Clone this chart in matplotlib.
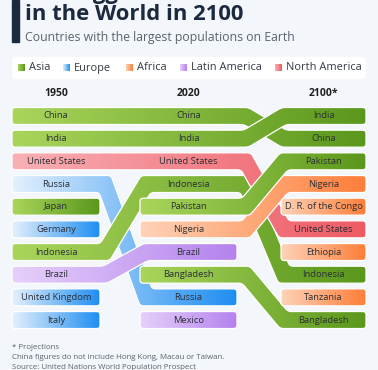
import numpy as np
import matplotlib.pyplot as plt
from matplotlib.colors import LinearSegmentedColormap
from matplotlib.patches import Polygon, FancyBboxPatch, Rectangle

plt.rcParams['font.family'] = ['Open Sans', 'DejaVu Sans']

# data
years = ['1950', '2020', '2100*']
rank_1950 = ['China', 'India', 'United States', 'Russia', 'Japan', 'Germany',
             'Indonesia', 'Brazil', 'United Kingdom', 'Italy']
rank_2020 = ['China', 'India', 'United States', 'Indonesia', 'Pakistan', 'Nigeria',
             'Brazil', 'Bangladesh', 'Russia', 'Mexico']
rank_2100 = ['India', 'China', 'Pakistan', 'Nigeria', 'D. R. of the Congo',
             'United States', 'Ethiopia', 'Indonesia', 'Tanzania', 'Bangladesh']
rankings = [rank_1950, rank_2020, rank_2100]

regions = ['Asia', 'Europe', 'Africa', 'Latin America', 'North America']
asia = ['China', 'India', 'Japan', 'Indonesia', 'Pakistan', 'Bangladesh']
europe = ['Russia', 'Germany', 'United Kingdom', 'Italy']
africa = ['Nigeria', 'D. R. of the Congo', 'Ethiopia', 'Tanzania']
latin_america = ['Brazil', 'Mexico']
north_america = ['United States']
members = [asia, europe, africa, latin_america, north_america]
region_of = {c: reg for reg, lst in zip(regions, members) for c in lst}

colors = {
    'Asia': ('#aad55c', '#5a971c'),
    'Europe': ('#e4f0fd', '#1f8ef1'),
    'Africa': ('#fdd3b9', '#ff7e38'),
    'Latin America': ('#e6d0fa', '#b482ee'),
    'North America': ('#f8b0b5', '#ee5a64'),
}

# layout (pixels)
W, H = 378, 370
BG = '#f3f6fa'
ROW0, PITCH, BAR = 116, 22.67, 17
COL_SPAN = [(12, 100), (140, 237), (281, 366)]
SLANT = [(105, 146), (246, 284)]


def outline(pts, w):
    pts = np.asarray(pts, float)
    d = np.diff(pts, axis=0)
    d /= np.linalg.norm(d, axis=1)[:, None]
    nrm = np.column_stack([-d[:, 1], d[:, 0]])
    left, right = [], []
    for k, p in enumerate(pts):
        if k == 0:
            m, s = nrm[0], w / 2
        elif k == len(pts) - 1:
            m, s = nrm[-1], w / 2
        else:
            m = nrm[k - 1] + nrm[k]
            m /= np.linalg.norm(m)
            s = (w / 2) / np.dot(m, nrm[k])
        left.append(p + m * s)
        right.append(p - m * s)
    return np.array(left + right[::-1])


def round_poly(poly, radius):
    out = []
    n = len(poly)
    for i in range(n):
        a, c, b = poly[i - 1], poly[i], poly[(i + 1) % n]
        la, lb = np.linalg.norm(a - c), np.linalg.norm(b - c)
        r = min(radius, 0.45 * la, 0.45 * lb)
        q1 = c + (a - c) / la * r
        q2 = c + (b - c) / lb * r
        for t in np.linspace(0, 1, 7):
            out.append((1 - t) ** 2 * q1 + 2 * t * (1 - t) * c + t ** 2 * q2)
    return np.array(out)


fig = plt.figure(figsize=(W / 100, H / 100), dpi=100, facecolor=BG)

# chart axes: x in pixels, y in rank units
top = ROW0 - PITCH / 2
bot = ROW0 + PITCH * 9.5
ax = fig.add_axes([0, 1 - bot / H, 1, (bot - top) / H])
ax.set_facecolor(BG)
ax.axis('off')

# collect runs of consecutive columns for every country
countries = []
for rk in rankings:
    for c in rk:
        if c not in countries:
            countries.append(c)

runs = []
for c in countries:
    app = [(j, rk.index(c)) for j, rk in enumerate(rankings) if c in rk]
    cur = [app[0]]
    for a in app[1:]:
        if a[0] == cur[-1][0] + 1:
            cur.append(a)
        else:
            runs.append((c, cur))
            cur = [a]
    runs.append((c, cur))

# later-ending and higher-ranked ribbons on top
runs.sort(key=lambda rc: (rc[1][-1][0], -rc[1][-1][1]))

grad = np.linspace(0, 1, 256).reshape(1, -1)
for z, (name, run) in enumerate(runs):
    pts = [(COL_SPAN[run[0][0]][0], run[0][1] * PITCH)]
    for (j0, r0), (j1, r1) in zip(run[:-1], run[1:]):
        if r0 != r1:
            pts.append((SLANT[j0][0], r0 * PITCH))
            pts.append((SLANT[j0][1], r1 * PITCH))
    pts.append((COL_SPAN[run[-1][0]][1], run[-1][1] * PITCH))
    poly = round_poly(outline(pts, BAR), 3.5)
    poly[:, 1] /= PITCH
    light, dark = colors[region_of[name]]
    cmap = LinearSegmentedColormap.from_list(name, [light, dark])
    x0, x1 = poly[:, 0].min(), poly[:, 0].max()
    im = ax.imshow(grad, cmap=cmap, extent=(x0, x1, 10, -1), aspect='auto',
                   interpolation='bilinear', zorder=2 * z + 1)
    patch = Polygon(poly, closed=True, fc='none', ec='white', lw=0.9,
                    zorder=2 * z + 1.5)
    ax.add_patch(patch)
    im.set_clip_path(patch)

for j, rk in enumerate(rankings):
    xc = sum(COL_SPAN[j]) / 2
    ax.text(xc, -1, years[j], ha='center', va='center', fontsize=7.5,
            fontweight='bold', color='#1f1f1f')
    for r, c in enumerate(rk):
        ax.text(xc, r, c, ha='center', va='center', fontsize=6.75,
                color='#2b2f36', zorder=200)

ax.set_xlim(0, W)
ax.set_ylim(9.5, -0.5)

# header / footer in pixel coordinates
ov = fig.add_axes([0, 0, 1, 1], zorder=-1)
ov.set_facecolor(BG)
ov.axis('off')
ax.set_zorder(1)

ov.add_patch(Rectangle((12, 0), 7, 42, color='#1b2a3e'))
ov.text(25, -1.5, 'The Biggest Countries', fontsize=15.8, fontweight='bold',
        color='#1b2a3e', va='baseline')
ov.text(25, 19.5, 'in the World in 2100', fontsize=15.8, fontweight='bold',
        color='#1b2a3e', va='baseline')
ov.text(25, 41.5, 'Countries with the largest populations on Earth',
        fontsize=8.8, color='#5a636e', va='baseline')

ov.add_patch(FancyBboxPatch((12, 57), 354, 22, boxstyle='round,pad=0,rounding_size=4',
                            fc='white', ec='none', zorder=1))
leg_x = [18, 63, 126, 180, 275]
for x, reg in zip(leg_x, regions):
    light, dark = colors[reg]
    cmap = LinearSegmentedColormap.from_list(reg, [light, dark])
    ov.imshow(grad, cmap=cmap, extent=(x, x + 7, 71.5, 64.5), aspect='auto',
              interpolation='bilinear', zorder=3)
    ov.text(x + 11, 68, reg, fontsize=7.9, color='#333a44', va='center', zorder=4)

foot = ['* Projections',
        'China figures do not include Hong Kong, Macau or Taiwan.',
        'Source: United Nations World Population Prospect']
for k, line in enumerate(foot):
    ov.text(12, 349 + 10 * k, line, fontsize=5.7, color='#5a636e', va='baseline')
ov.set_xlim(0, W)
ov.set_ylim(H, 0)

fig.savefig('out.png', dpi=100, facecolor=BG)
